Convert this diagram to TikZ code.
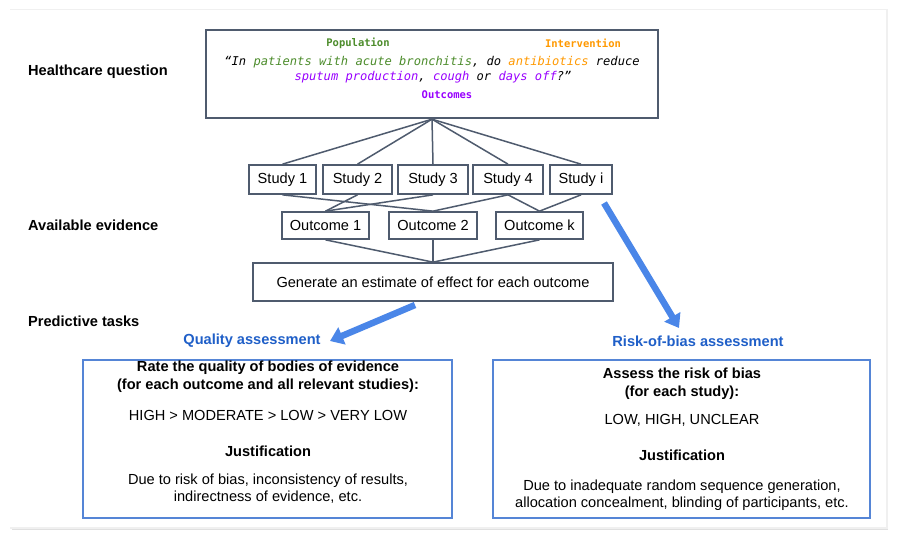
\documentclass[tikz,border=0pt]{standalone}
\usepackage{fontspec}
\setmainfont{Liberation Sans}
\newfontfamily\monof{DejaVu Sans Mono}
\usetikzlibrary{arrows.meta}
\definecolor{slate}{HTML}{4F5B6E}
\definecolor{popgreen}{HTML}{4C8C2B}
\definecolor{intorange}{HTML}{FF9900}
\definecolor{outpurple}{HTML}{9900FF}
\definecolor{bluearrow}{HTML}{4A86E8}
\definecolor{bluetext}{HTML}{1F5FC8}
\definecolor{blueborder}{HTML}{5585D6}
\begin{document}
\begin{tikzpicture}[x=1pt,y=-1pt,
  sbox/.style={draw=slate,line width=1.7pt,inner sep=0pt,font=\fontsize{14.6}{16}\selectfont},
  conn/.style={draw=slate,line width=1.5pt},
  side/.style={anchor=west,inner sep=0pt,font=\fontsize{14.6}{16}\selectfont\bfseries},
  tasklbl/.style={font=\fontsize{14.6}{16}\selectfont\bfseries,text=bluetext},
  bigarrow/.style={draw=bluearrow,line width=6.5pt,-{Triangle[width=18pt,length=13pt]}},
  pbox/.style={draw=blueborder,line width=1.8pt,inner sep=0pt},
  ptxt/.style={font=\fontsize{14.6}{16}\selectfont},
  pbold/.style={font=\fontsize{14.6}{16}\selectfont\bfseries},
  mlbl/.style={font=\monof\fontsize{10.5}{12}\selectfont\bfseries},
  mtxt/.style={font=\monof\fontsize{12.1}{14}\selectfont\itshape}
]
\useasboundingbox (0,0) rectangle (901,537);
% card with shadow
\fill[black!12] (11.5,11.5) rectangle (888,529.5);
\fill[black!6] (9.5,9.5) rectangle (887.5,528.5);
\fill[white] (10,10) rectangle (886,527);

% left labels
\node[side] (lq) at (28,72) {Healthcare question};
\node[side] (le) at (28,225) {Available evidence};
\node[side] (lp) at (28,321) {Predictive tasks};

% question box
\node[draw=slate,line width=2.4pt,minimum width=452pt,minimum height=88pt,inner sep=0pt] (q) at (432,74) {};
\node[mlbl,text=popgreen] (pop) at (358,43) {Population};
\node[mlbl,text=intorange] (int) at (583,43) {Intervention};
\node[mtxt] (ql1) at (432,62) {“In \textcolor{popgreen}{patients with acute bronchitis}, do \textcolor{intorange}{antibiotics} reduce};
\node[mtxt] (ql2) at (433,77) {\textcolor{outpurple}{sputum production}, \textcolor{outpurple}{cough} or \textcolor{outpurple}{days off}?”};
\node[mlbl,text=outpurple] (outl) at (447,95) {Outcomes};

% studies
\node[sbox,minimum width=67pt,minimum height=29pt] (s1) at (282.5,179.5) {Study 1};
\node[sbox,minimum width=69pt,minimum height=29pt] (s2) at (357.5,179.5) {Study 2};
\node[sbox,minimum width=70pt,minimum height=29pt] (s3) at (433,179.5) {Study 3};
\node[sbox,minimum width=70pt,minimum height=29pt] (s4) at (508,179.5) {Study 4};
\node[sbox,minimum width=62pt,minimum height=29pt] (si) at (581,179.5) {Study i};

% outcomes
\node[sbox,minimum width=87pt,minimum height=27pt] (o1) at (325.5,225.5) {Outcome 1};
\node[sbox,minimum width=88pt,minimum height=27pt] (o2) at (433,225.5) {Outcome 2};
\node[sbox,minimum width=87pt,minimum height=27pt] (ok) at (539.5,225.5) {Outcome k};

% generate
\node[sbox,minimum width=360pt,minimum height=38pt] (g) at (433,282) {Generate an estimate of effect for each outcome};

% connectors
\foreach \s in {s1,s2,s3,s4,si} \draw[conn] (q.south) -- (\s.north);
\draw[conn] (s1.south) -- (o2.north);
\draw[conn] (s2.south) -- (o1.north);
\draw[conn] (s3.south) -- (o1.north);
\draw[conn] (s4.south) -- (o2.north);
\draw[conn] (s4.south) -- (ok.north);
\draw[conn] (si.south) -- (ok.north);
\foreach \o in {o1,o2,ok} \draw[conn] (\o.south) -- (g.north);

% task labels
\node[tasklbl] (qa) at (252,341) {Quality assessment};
\node[tasklbl] (rb) at (698,341) {Risk-of-bias assessment};

% big arrows
\coordinate (a1s) at (415,305);
\coordinate (a1e) at (330,341);
\coordinate (a2s) at (604,203);
\coordinate (a2e) at (679,328);
\draw[bigarrow] (a1s) -- (a1e);
\draw[bigarrow] (a2s) -- (a2e);

% bottom boxes
\node[pbox,minimum width=369pt,minimum height=158pt] (lb) at (267.5,439) {};
\node[pbox,minimum width=377pt,minimum height=158pt] (rbx) at (681.5,439) {};

\node[pbold] (l1) at (268,368) {Rate the quality of bodies of evidence};
\node[pbold] (l2) at (268,386) {(for each outcome and all relevant studies):};
\node[ptxt] (l3) at (268,415) {HIGH > MODERATE > LOW > VERY LOW};
\node[pbold] (l4) at (268,451) {Justification};
\node[ptxt] (l5) at (268,481) {Due to risk of bias, inconsistency of results,};
\node[ptxt] (l6) at (268,497) {indirectness of evidence, etc.};

\node[pbold] (r1) at (682,373) {Assess the risk of bias};
\node[pbold] (r2) at (682,393) {(for each study):};
\node[ptxt] (r3) at (682,420) {LOW, HIGH, UNCLEAR};
\node[pbold] (r4) at (682,455) {Justification};
\node[ptxt] (r5) at (682,487) {Due to inadequate random sequence generation,};
\node[ptxt] (r6) at (682,504) {allocation concealment, blinding of participants, etc.};
\end{tikzpicture}
\end{document}
